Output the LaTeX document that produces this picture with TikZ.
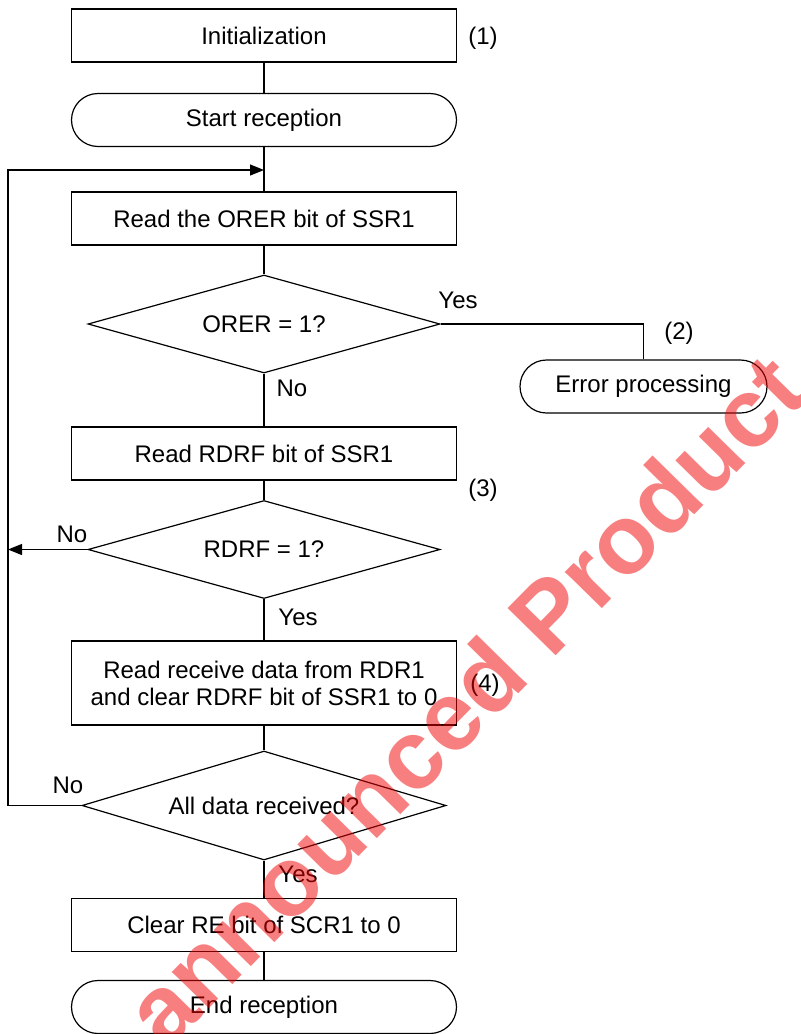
\documentclass[tikz,border=0pt]{standalone}
\usepackage{fontspec}
\setmainfont{Liberation Sans}
\usetikzlibrary{positioning,arrows.meta,shapes.geometric}

\begin{document}
\begin{tikzpicture}[
  x=0.5pt, y=-0.5pt,
  every node/.style={font=\fontsize{12}{13.5}\selectfont},
  proc/.style={rectangle, draw, line width=0.6pt, minimum width=192.5pt,
               minimum height=26.5pt, inner sep=2pt, align=center},
  term/.style={proc, rounded corners=13.25pt},
  dec/.style={diamond, draw, line width=0.6pt, aspect=3.6, minimum width=176pt,
              minimum height=49pt, inner sep=0pt},
  note/.style={inner sep=1pt},
  flow/.style={line width=0.6pt},
  loopback/.style={flow, -{Triangle[length=7pt,width=5.5pt]}}
]
  \useasboundingbox (0,0) rectangle (800,1034);
  % process boxes
  \foreach \nm/\yy/\txt in {init/35.5/Initialization, rdorer/218.5/Read the ORER bit of SSR1,
                            rdrdrf/453.5/Read RDRF bit of SSR1, clrre/925/Clear RE bit of SCR1 to 0} {
     \node[proc] (\nm) at (264,\yy) {\txt};
  }
  \node[proc, minimum height=42pt] (rdata) at (264,683)
       {Read receive data from RDR1\\and clear RDRF bit of SSR1 to 0};
  % terminals
  \node[term] (start) at (264,120) {Start reception};
  \node[term] (finish) at (264,1007) {End reception};
  \node[term, minimum width=123.5pt] (err) at (643.5,386.5) {Error processing};
  % decisions
  \node[dec] (orer) at (264,324) {ORER = 1?};
  \node[dec] (rdrf) at (264,549.5) {RDRF = 1?};
  \node[dec, aspect=3.3, minimum width=182pt, minimum height=54.5pt] (alldone) at (264,805.5) {All data received?};
  % loop rail
  \coordinate (join) at (264,170);
  \coordinate (rail) at (8,170);

  \draw[flow] (init) -- (start);
  \draw[flow] (start) -- (rdorer);
  \draw[flow] (rdorer) -- (orer);
  \draw[flow] (orer) -- (rdrdrf);
  \draw[flow] (orer.east) -| (err.north);
  \draw[flow] (rdrdrf) -- (rdrf);
  \draw[flow] (rdrf) -- (rdata);
  \draw[loopback] (rdrf.west) -- (rdrf.west -| rail);
  \draw[flow] (rdata) -- (alldone);
  \draw[flow] (alldone) -- (clrre);
  \draw[flow] (clrre) -- (finish);
  \draw[loopback] (alldone.west) -| (rail) -- (join);

  % branch labels and step numbers
  \foreach \nm/\xx/\yy/\txt in {yes1/458/300/Yes, no1/292/388/No, no2/72/534/No,
                                yes2/298/617/Yes, no3/68/785/No, yes3/298/874/Yes} {
     \node[note] (\nm) at (\xx,\yy) {\txt};
  }
  \foreach \i/\xx/\yy in {1/483/38, 2/679/333, 3/483/490, 4/485/685} {
     \node[note] (num\i) at (\xx,\yy) {(\i)};
  }

  \node[font=\fontsize{49}{49}\selectfont\bfseries, text=red!95!black, text opacity=0.5, rotate=45.5]
       (wmark) at (464,700) {announced Product};
\end{tikzpicture}
\end{document}
